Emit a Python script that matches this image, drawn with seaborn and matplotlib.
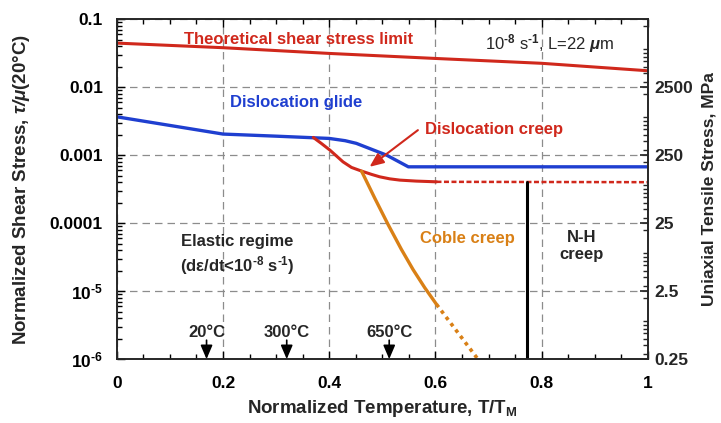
import matplotlib
matplotlib.use("Agg")
import matplotlib.pyplot as plt
from matplotlib.ticker import MultipleLocator, FixedLocator, NullFormatter
import seaborn as sns

# --- data (T/TM vs tau/mu) ---
theo_t = [0.0, 0.2, 0.4, 0.6, 0.8, 1.0]
theo_s = [0.0444, 0.038, 0.0313, 0.0264, 0.0224, 0.0174]

glide_t = [0.0, 0.2, 0.3, 0.4, 0.43, 0.451, 0.508, 0.549, 1.0]
glide_s = [0.00366, 0.00204, 0.0019, 0.00176, 0.00163, 0.00149, 0.001, 0.000673, 0.000673]

creep_t = [0.370, 0.385, 0.401, 0.414, 0.426, 0.442, 0.461, 0.480, 0.495,
           0.514, 0.533, 0.564, 0.602]
creep_s = [0.00182, 0.00149, 0.00119, 0.000966, 0.000796, 0.000659, 0.000582,
           0.00052, 0.00048, 0.000448, 0.000429, 0.000415, 0.000405]
creep_ext_t = [0.602, 1.0]
creep_ext_s = [0.000405, 0.0004]

coble_t = [0.461, 0.486, 0.511, 0.536, 0.558, 0.580, 0.602]
coble_s = [5.8e-4, 2.31e-4, 9.5e-5, 4.1e-5, 2.07e-5, 1.12e-5, 6.4e-6]
coble_ext_t = [0.602, 0.68]
coble_ext_s = [6.4e-6, 1.0e-6]

nh_t = [0.772, 0.772]
nh_s = [0.0004, 1.0e-6]

temp_labels = ["20°C", "300°C", "650°C"]
temp_pos = [0.169, 0.32, 0.513]

x_ticks = [0, 0.2, 0.4, 0.6, 0.8, 1.0]
x_labels = ["0", "0.2", "0.4", "0.6", "0.8", "1"]
y_ticks = [1e-6, 1e-5, 1e-4, 1e-3, 1e-2, 1e-1]
y_labels = [r"10$^{\text{-}6}$", r"10$^{\text{-}5}$", "0.0001", "0.001", "0.01", "0.1"]
mpa_ticks = [0.25, 2.5, 25, 250, 2500]
mpa_labels = ["0.25", "2.5", "25", "250", "2500"]
MPA_PER_UNIT = 250000.0

RED = "#d0281c"
BLUE = "#1f3fd0"
ORANGE = "#d98016"

sns.set_theme(style="ticks")
plt.rcParams.update({
    "font.family": ["Liberation Sans", "DejaVu Sans"],
    "font.weight": "bold",
    "axes.labelweight": "bold",
    "mathtext.fontset": "custom",
    "mathtext.rm": "Liberation Sans",
    "mathtext.it": "Liberation Sans:italic",
    "mathtext.bf": "Liberation Sans:bold",
    "mathtext.bfit": "Liberation Sans:italic:bold",
    "mathtext.default": "bf",
    "axes.linewidth": 1.2,
})

fig = plt.figure(figsize=(7.21, 4.23), dpi=100)
ax = fig.add_axes([0.162, 0.151, 0.7365, 0.8038])
ax.set_yscale("log")
ax.set_xlim(0, 1)
ax.set_ylim(1e-6, 0.1)

sns.lineplot(x=theo_t, y=theo_s, ax=ax, color=RED, lw=2.2)
sns.lineplot(x=glide_t, y=glide_s, ax=ax, color=BLUE, lw=2.4)
sns.lineplot(x=creep_t, y=creep_s, ax=ax, color=RED, lw=2.2)
sns.lineplot(x=creep_ext_t, y=creep_ext_s, ax=ax, color=RED, lw=1.8,
             linestyle=(0, (2, 1)))
sns.lineplot(x=coble_t, y=coble_s, ax=ax, color=ORANGE, lw=2.4)
sns.lineplot(x=coble_ext_t, y=coble_ext_s, ax=ax, color=ORANGE, lw=2.6,
             linestyle=(0, (1, 1.2)))
ax.plot(nh_t, nh_s, color="black", lw=2.2)

ax.set_xticks(x_ticks, x_labels)
ax.xaxis.set_minor_locator(MultipleLocator(0.05))
ax.set_yticks(y_ticks, y_labels)
ax.grid(True, which="major", color="#8c8c8c", linestyle=(0, (6, 4)), lw=0.9)
ax.tick_params(axis="both", which="both", direction="in", top=True,
               right=False, labelsize=12.5, width=1, colors="black")
ax.tick_params(axis="both", which="major", length=6)
ax.tick_params(axis="both", which="minor", length=3.5)
ax.tick_params(axis="x", pad=12)
ax.tick_params(axis="y", pad=10)

ax2 = ax.twinx()
ax2.set_yscale("log")
ax2.set_ylim(1e-6 * MPA_PER_UNIT, 0.1 * MPA_PER_UNIT)
ax2.yaxis.set_major_locator(FixedLocator(mpa_ticks))
ax2.set_yticklabels(mpa_labels)
ax2.yaxis.set_minor_formatter(NullFormatter())
ax2.tick_params(axis="y", which="both", direction="in", labelsize=12.5, pad=5)
ax2.tick_params(axis="y", which="major", length=6)
ax2.tick_params(axis="y", which="minor", length=3.5)

ax.set_xlabel(r"Normalized Temperature, T/T$_{M}$", fontsize=13.5, va="center")
ax.xaxis.set_label_coords(0.5, -0.144)
ax.set_ylabel(r"Normalized Shear Stress, $\mathbfit{\tau/\mu}$(20°C)",
              fontsize=13.5, va="center")
ax.yaxis.set_label_coords(-0.179, 0.5)
ax2.set_ylabel("Uniaxial Tensile Stress, MPa", fontsize=12.5, va="center")
ax2.yaxis.set_label_coords(1.116, 0.5)

# region labels
ax.text(0.343, 0.0508, "Theoretical shear stress limit", color=RED,
        fontsize=12, ha="center", va="center")
ax.text(0.815, 0.0444, r"10$^{\mathrm{\text{-}8}}$ s$^{\mathrm{\text{-}1}}$, L=22 $\mathit{\mu}$m",
        fontsize=12, fontweight="normal", ha="center", va="center")
ax.text(0.337, 0.0060, "Dislocation glide", color=BLUE, fontsize=12,
        ha="center", va="center")
ax.text(0.71, 0.00241, "Dislocation creep", color=RED, fontsize=12,
        ha="center", va="center")
ax.annotate("", xy=(0.476, 0.000673), xytext=(0.567, 0.00233),
            arrowprops=dict(arrowstyle="-|>,head_length=0.7,head_width=0.3",
                            color=RED, lw=1.5, mutation_scale=12,
                            shrinkA=0, shrinkB=0))
ax.text(0.66, 6.0e-5, "Coble creep", color=ORANGE, fontsize=12,
        ha="center", va="center")
ax.text(0.876, 6.2e-5, "N-H", fontsize=12, ha="center", va="center")
ax.text(0.876, 3.5e-5, "creep", fontsize=12, ha="center", va="center")
ax.text(0.226, 5.4e-5, "Elastic regime", fontsize=12, ha="center", va="center")
ax.text(0.226, 2.4e-5, r"(dε/dt<10$^{\text{-}8}$ s$^{\text{-}1}$)", fontsize=12,
        ha="center", va="center")

for lab, t in zip(temp_labels, temp_pos):
    ax.text(t, 2.5e-6, lab, fontsize=12, ha="center", va="center")
    ax.annotate("", xy=(t, 1.0e-6), xytext=(t, 1.9e-6),
                arrowprops=dict(arrowstyle="-|>,head_length=0.7,head_width=0.3",
                                color="black", lw=1.2, mutation_scale=12,
                                shrinkA=0, shrinkB=0))

fig.savefig("out.png", dpi=100, facecolor="white")
